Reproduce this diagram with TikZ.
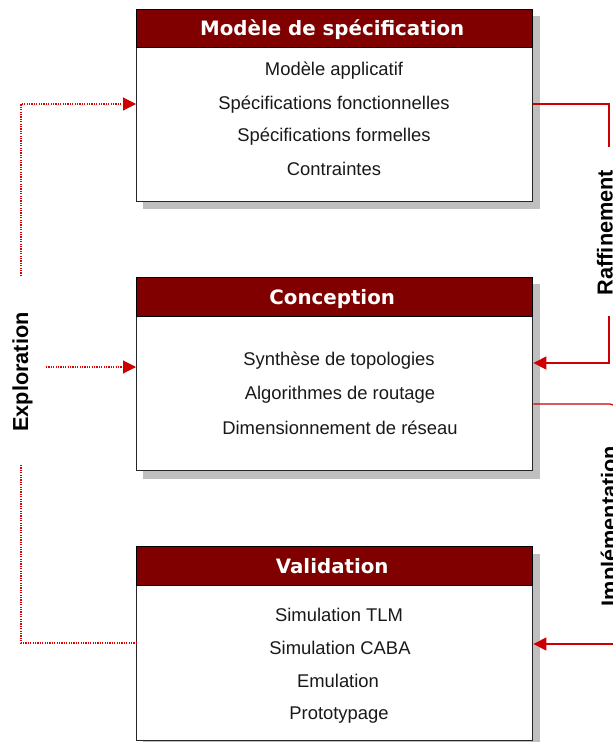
\documentclass[tikz,border=0pt]{standalone}
\usepackage{fontspec}
\setmainfont{Liberation Sans}
\newfontfamily\titlefont{DejaVu Sans}
\usetikzlibrary{arrows.meta,calc}
\tikzset{
  x=1pt,y=-1pt,
  boxbody/.style={draw=black!85,line width=1.4pt,fill=white,minimum width=396pt,inner sep=0pt,anchor=north west},
  boxshadow/.style={fill=black!25,draw=none},
  boxtitle/.style={draw=black,line width=1.4pt,fill=titlered,minimum width=396pt,inner sep=0pt,anchor=north west,text=white,text height=15pt,text depth=1pt,execute at begin node={\hspace*{-5pt}},font=\titlefont\bfseries\fontsize{19.8}{22}\selectfont},
  item/.style={font=\fontsize{18.4}{21}\selectfont,text=black!90,inner sep=0pt},
  vlabel/.style={rotate=90,anchor=base,font=\bfseries\fontsize{21.7}{24}\selectfont,inner sep=0pt},
  solidlink/.style={draw=linkred,line width=1.2pt},
  dotlink/.style={draw=dotred,line width=1.1pt,dash pattern=on 1.2pt off 1.2pt},
  tip/.style={-{Triangle[length=13pt,width=13pt,fill=linkred,color=linkred]}}
}
\definecolor{titlered}{HTML}{800000}
\definecolor{linkred}{HTML}{CC0000}
\definecolor{dotred}{HTML}{E00000}
\begin{document}
\begin{tikzpicture}
\useasboundingbox (0,0) rectangle (613,742);
% shadows
\fill[boxshadow] (143,16) rectangle (540,209);
\fill[boxshadow] (143,284) rectangle (540,479);
\fill[boxshadow] (143,554) rectangle (540,748);
% boxes
\node[boxbody,minimum height=192pt] (spec) at (136,9) {};
\node[boxtitle,minimum height=38pt] (spect) at (136,9) {Modèle de spécification};
\node[boxbody,minimum height=193pt] (conc) at (136,277) {};
\node[boxtitle,minimum height=39pt] (conct) at (136,277) {Conception};
\node[boxbody,minimum height=194pt] (valid) at (136,546) {};
\node[boxtitle,minimum height=39pt] (validt) at (136,546) {Validation};
% items
\node[item] (s1) at (334,70.5) {Modèle applicatif};
\node[item] (s2) at (334,104.5) {Spécifications fonctionnelles};
\node[item] (s3) at (334,137) {Spécifications formelles};
\node[item] (s4) at (334,169) {Contraintes};
\node[item] (c1) at (339,361) {Synthèse de topologies};
\node[item] (c2) at (340,395) {Algorithmes de routage};
\node[item] (c3) at (340,428) {Dimensionnement de réseau};
\node[item] (v1) at (339,615) {Simulation TLM};
\node[item] (v2) at (340,648) {Simulation CABA};
\node[item] (v3) at (338,681) {Emulation};
\node[item] (v4) at (339,715) {Prototypage};
% side labels
\node[vlabel] (expl) at (28,372) {Exploration};
\node[vlabel] (raff) at (612.6,232.5) {Raffinement};
\node[vlabel] (impl) at (616.6,526) {Implémentation};
% free ends
\coordinate (r1) at (609,147);
\coordinate (r2) at (609,316);
\coordinate (i1) at (613,405);
\coordinate (i2) at (613,644);
\coordinate (e1) at (21,276);
\coordinate (e2) at (46,367);
\coordinate (e3) at (21,465);
% connectors
\draw[solidlink] (spec.east |- 0,104) -| (r1);
\draw[solidlink,tip] (r2) |- (conc.east |- 0,363);
\draw[solidlink] (conc.east |- 0,404) -- (610,404) -- (i1);
\draw[solidlink,tip] (i2) -- (valid.east |- i2);
\draw[dotlink,tip] (e1) |- (spec.west |- 0,104);
\draw[dotlink,tip] (e2) -- (conc.west |- e2);
\draw[dotlink] (e3) |- (valid.west |- 0,643);
\end{tikzpicture}
\end{document}
